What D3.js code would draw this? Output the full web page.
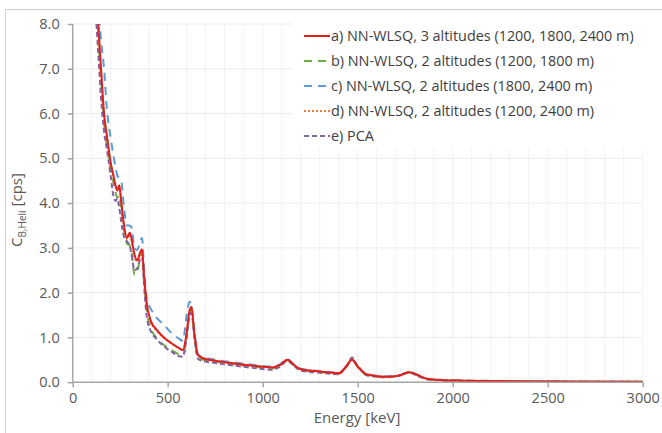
<!DOCTYPE html>
<html><head><meta charset="utf-8">
<script src="https://cdn.jsdelivr.net/npm/d3@7"></script>
<style>
body{margin:0;background:#fff;}
svg{display:block;font-family:"Open Sans","Noto Sans",sans-serif;}
</style></head>
<body><svg id="chart" width="662" height="433"></svg>
<script>
const energy = [125,135,150,165,180,200,215,225,235,245,255,270,285,300,310,325,340,355,365,375,390,410,440,480,520,560,580,600,615,625,640,660,690,750,850,950,1050,1090,1130,1160,1200,1300,1400,1440,1470,1500,1550,1650,1720,1770,1810,1870,1950,2050,2200,2500,2800,3000];
const seriesA = [9.0,8.0,6.95,6.0,5.5,4.9,4.6,4.4,4.28,4.4,4.05,3.5,3.22,3.34,3.2,2.85,2.72,2.9,2.97,2.4,1.75,1.38,1.18,1.0,0.87,0.76,0.72,1.1,1.6,1.68,1.1,0.6,0.53,0.48,0.42,0.37,0.33,0.38,0.50,0.40,0.29,0.24,0.20,0.35,0.50,0.35,0.17,0.12,0.15,0.22,0.17,0.07,0.045,0.035,0.025,0.015,0.01,0.01];
const seriesB = [8.6,7.7,6.7,5.8,5.3,4.75,4.45,4.25,4.12,4.18,3.9,3.4,3.1,3.05,2.9,2.4,2.45,2.8,2.9,2.3,1.6,1.22,1.0,0.83,0.72,0.62,0.6,1.05,1.55,1.65,1.05,0.55,0.5,0.46,0.40,0.35,0.31,0.37,0.49,0.39,0.28,0.23,0.19,0.34,0.50,0.34,0.16,0.11,0.15,0.22,0.16,0.065,0.04,0.03,0.02,0.015,0.01,0.01];
const seriesC = [9.4,8.5,7.6,7.0,6.1,5.45,5.05,4.8,4.62,4.55,4.5,3.9,3.5,3.5,3.45,3.0,2.95,3.15,3.22,2.6,1.85,1.65,1.45,1.28,1.1,0.97,0.92,1.5,1.8,1.7,1.15,0.62,0.56,0.5,0.44,0.39,0.35,0.4,0.52,0.42,0.3,0.25,0.21,0.36,0.51,0.36,0.18,0.13,0.16,0.23,0.18,0.075,0.05,0.04,0.03,0.02,0.015,0.01];
const seriesD = [9.0,8.0,6.9,6.0,5.5,4.9,4.6,4.42,4.3,4.38,4.05,3.5,3.2,3.3,3.15,2.8,2.7,2.88,2.95,2.4,1.72,1.36,1.16,0.99,0.86,0.75,0.71,1.1,1.6,1.68,1.1,0.6,0.53,0.48,0.42,0.37,0.33,0.38,0.50,0.40,0.29,0.24,0.20,0.35,0.51,0.35,0.17,0.12,0.15,0.22,0.17,0.07,0.045,0.035,0.025,0.015,0.01,0.01];
const seriesE = [8.0,7.3,6.3,5.6,5.2,4.6,4.15,4.05,4.1,3.9,3.6,3.25,3.15,3.05,2.85,2.5,2.55,2.75,2.8,2.2,1.45,1.15,0.97,0.8,0.68,0.58,0.57,1.0,1.5,1.55,1.0,0.52,0.47,0.43,0.37,0.32,0.28,0.34,0.48,0.38,0.26,0.21,0.18,0.36,0.55,0.36,0.15,0.11,0.15,0.22,0.15,0.06,0.04,0.03,0.02,0.015,0.01,0.01];
const seriesNames = ["a) NN-WLSQ, 3 altitudes (1200, 1800, 2400 m)","b) NN-WLSQ, 2 altitudes (1200, 1800 m)","c) NN-WLSQ, 2 altitudes (1800, 2400 m)","d) NN-WLSQ, 2 altitudes (1200, 2400 m)","e) PCA"];
const xTicks = [0,500,1000,1500,2000,2500,3000];
const yTicks = [0,1,2,3,4,5,6,7,8];
const xLabel = "Energy [keV]";

const styles = [
  {color:"#e02020", dash:null, width:2},
  {color:"#70ad47", dash:"8,6", width:2},
  {color:"#5b9bd5", dash:"8,6", width:2},
  {color:"#ed7d31", dash:"2,2", width:2},
  {color:"#8064a2", dash:"5,3", width:2}
];
const allSeries = [seriesA, seriesB, seriesC, seriesD, seriesE];
const order = [2,1,4,3,0];

const svg = d3.select("#chart");
svg.append("rect").attr("x",5.5).attr("y",9.5).attr("width",700).attr("height",500)
  .attr("fill","#fff").attr("stroke","#d0d0d0").attr("stroke-width",1);

const x = d3.scaleLinear().domain([0,3000]).range([72.7,642.7]);
const y = d3.scaleLinear().domain([0,8]).range([382.2,24]);

const grid = svg.append("g");
grid.selectAll(".vg").data(d3.range(100,3001,100)).join("line")
  .attr("x1",d=>x(d)).attr("x2",d=>x(d)).attr("y1",y(0)).attr("y2",y(8))
  .attr("stroke","#e6e6e6").attr("stroke-width",1).attr("stroke-dasharray","1,1");
grid.selectAll(".hg").data(yTicks.slice(1)).join("line")
  .attr("x1",x(0)).attr("x2",x(3000)).attr("y1",d=>y(d)).attr("y2",d=>y(d))
  .attr("stroke","#d9d9d9").attr("stroke-width",1).attr("stroke-dasharray","1,1");

svg.append("clipPath").attr("id","clip").append("rect")
  .attr("x",x(0)).attr("y",y(8)).attr("width",x(3000)-x(0)).attr("height",y(0)-y(8));
const line = d3.line().x((d,i)=>x(energy[i])).y(d=>y(d)).curve(d3.curveMonotoneX);
const lg = svg.append("g").attr("clip-path","url(#clip)");
order.forEach(k=>{
  lg.append("path").datum(allSeries[k]).attr("d",line)
    .attr("fill","none").attr("stroke",styles[k].color).attr("stroke-width",styles[k].width)
    .attr("stroke-dasharray",styles[k].dash).attr("stroke-linejoin","round");
});

const xAxis = svg.append("g").attr("transform",`translate(0,${y(0)})`)
  .call(d3.axisBottom(x).tickValues(xTicks).tickSize(5).tickPadding(6).tickFormat(d3.format("d")));
const yAxis = svg.append("g").attr("transform",`translate(${x(0)},0)`)
  .call(d3.axisLeft(y).tickValues(yTicks).tickSize(5).tickPadding(8).tickFormat(d3.format(".1f")));
[xAxis,yAxis].forEach(a=>{
  a.select(".domain").attr("stroke","#a6a6a6").attr("stroke-width",1.5);
  a.selectAll(".tick line").attr("stroke","#a6a6a6").attr("stroke-width",1.5);
  a.selectAll(".tick text").attr("fill","#595959").attr("font-size",14.5).attr("font-family","Open Sans");
});
xAxis.select(".domain").attr("d",`M${x(0)},0H${x(3000)}`);
yAxis.select(".domain").attr("d",`M0,${y(8)}V${y(0)}`);

svg.append("text").attr("x",357).attr("y",423).attr("text-anchor","middle")
  .attr("fill","#595959").attr("font-size",15).text(xLabel);

const yl = svg.append("text").attr("transform","translate(22,210) rotate(-90)")
  .attr("text-anchor","middle").attr("fill","#595959").attr("font-size",15);
yl.append("tspan").text("C");
yl.append("tspan").attr("font-size",10).attr("dy",4).text("B,Heli");
yl.append("tspan").attr("dy",-4).text(" [cps]");

const leg = svg.append("g");
leg.append("rect").attr("x",293).attr("y",20).attr("width",352).attr("height",128).attr("fill","#fff");
seriesNames.forEach((name,i)=>{
  const yy = 36 + i*25;
  leg.append("line").attr("x1",304).attr("x2",330).attr("y1",yy).attr("y2",yy)
    .attr("stroke",styles[i].color).attr("stroke-width",2).attr("stroke-dasharray",styles[i].dash);
  leg.append("text").attr("x",331).attr("y",yy+5).attr("fill","#404040").attr("font-size",14.4).text(name);
});
</script></body></html>
